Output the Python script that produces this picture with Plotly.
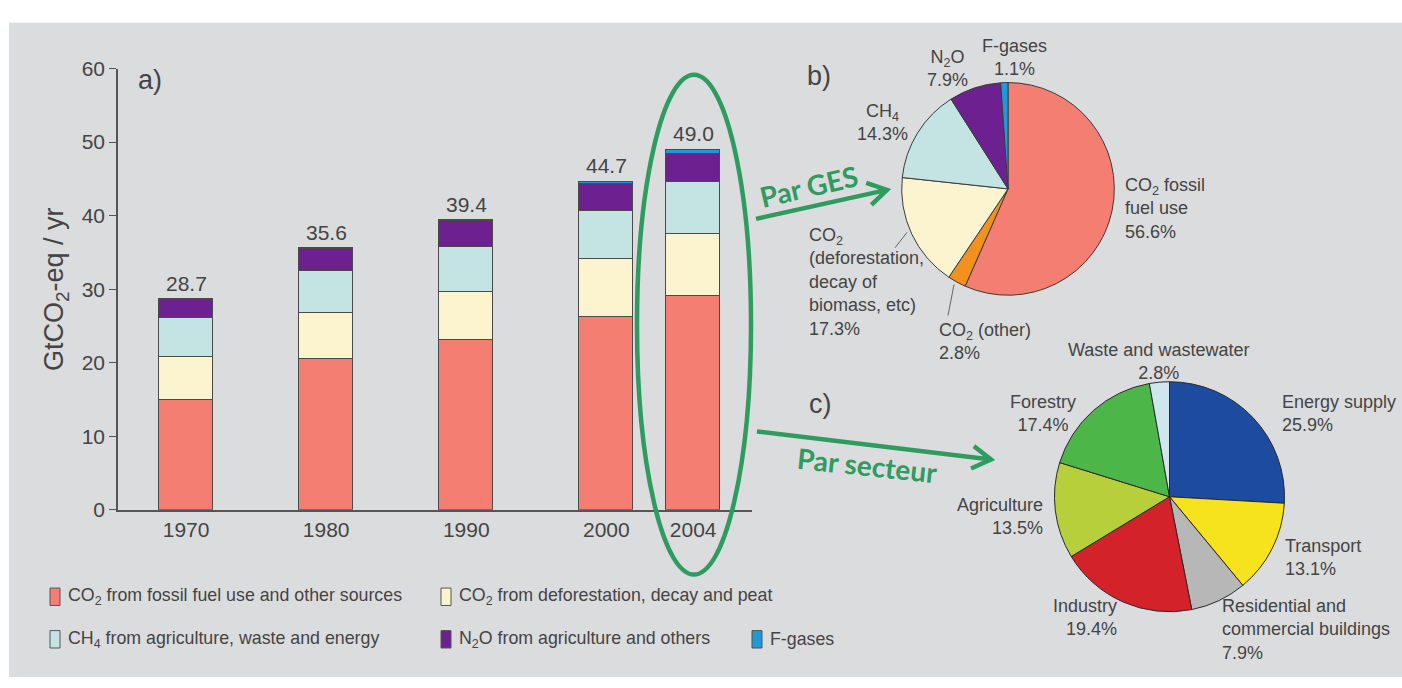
import math
import plotly.graph_objects as go

# ---- data ---------------------------------------------------------------
years = ["1970", "1980", "1990", "2000", "2004"]
co2_fossil = [15.0, 20.5, 23.2, 26.3, 29.1]
co2_deforest = [5.9, 6.3, 6.5, 7.8, 8.5]
ch4 = [5.3, 5.7, 6.1, 6.6, 7.0]
n2o = [2.4, 3.0, 3.5, 3.7, 3.9]
f_gases = [0.1, 0.1, 0.1, 0.3, 0.5]

series_names = [
    "CO<sub>2</sub> from fossil fuel use and other sources",
    "CO<sub>2</sub> from deforestation, decay and peat",
    "CH<sub>4</sub> from agriculture, waste and energy",
    "N<sub>2</sub>O from agriculture and others",
    "F-gases",
]

gas_labels = ["CO<sub>2</sub> fossil<br>fuel use", "CO<sub>2</sub> (other)",
              "CO<sub>2</sub><br>(deforestation,<br>decay of<br>biomass, etc)",
              "CH<sub>4</sub>", "N<sub>2</sub>O", "F-gases"]
gas_share = [56.6, 2.8, 17.3, 14.3, 7.9, 1.1]

sector_labels = ["Energy supply", "Transport",
                 "Residential and<br>commercial buildings", "Industry",
                 "Agriculture", "Forestry", "Waste and wastewater"]
sector_share = [25.9, 13.1, 7.9, 19.4, 13.5, 17.4, 2.8]

# ---- styling ------------------------------------------------------------
W, H = 1402, 688
BG = "#dbdcde"
INK = "#444444"
EDGE = "#4a4a4a"
GREEN = "#2e9b5f"
FONT = "Liberation Sans, Arial, sans-serif"

series_colors = ["#f47e72", "#fcf4cf", "#c3e4e3", "#6d2190", "#1f9ad8"]
gas_colors = ["#f47e72", "#f3901f", "#fcf4cf", "#c3e4e3", "#6d2190", "#1f9ad8"]
sector_colors = ["#1d4b9f", "#f6e31e", "#b7b7b7", "#d4222a", "#b6cf3a",
                 "#4cb748", "#cfe6ef"]

# horizontal slots of the bars (2004 sits closer to 2000)
bar_slots = [0, 1, 2, 3, 3.62]


def px(x):
    return x / W


def py(y):
    return 1 - y / H


fig = go.Figure()

# ---- stacked bars -------------------------------------------------------
for name, vals, col in zip(series_names,
                           [co2_fossil, co2_deforest, ch4, n2o, f_gases],
                           series_colors):
    fig.add_trace(go.Bar(
        x=bar_slots, y=vals, name=name, width=0.386,
        marker=dict(color=col, line=dict(color=EDGE, width=1)),
        showlegend=False, hoverinfo="skip",
    ))

totals = [round(sum(v), 1) for v in zip(co2_fossil, co2_deforest, ch4, n2o, f_gases)]

annotations = []
for xs, tot in zip(bar_slots, totals):
    annotations.append(dict(
        x=xs, y=tot, xref="x", yref="y", text=f"{tot:.1f}", showarrow=False,
        yanchor="bottom", yshift=2, font=dict(size=21, color=INK, family=FONT)))

# ---- pies ---------------------------------------------------------------
def dom(cx, cy, r):
    return dict(x=[px(cx - r), px(cx + r)], y=[py(cy + r), py(cy - r)])


fig.add_trace(go.Pie(
    labels=gas_labels, values=gas_share, sort=False, direction="clockwise",
    rotation=0, textinfo="none", hoverinfo="skip", showlegend=False,
    marker=dict(colors=gas_colors, line=dict(color="#3a3a3a", width=1)),
    domain=dom(1008, 183, 110)))

fig.add_trace(go.Pie(
    labels=sector_labels, values=sector_share, sort=False,
    direction="clockwise", rotation=0, textinfo="none", hoverinfo="skip",
    showlegend=False,
    marker=dict(colors=sector_colors, line=dict(color="#2a2a2a", width=1)),
    domain=dom(1169.5, 501.5, 119)))

# ---- pie labels ---------------------------------------------------------
def lab(text, x, y, anchor="center", size=18):
    annotations.append(dict(
        x=px(x), y=py(y), xref="paper", yref="paper", text=text,
        showarrow=False, xanchor=anchor, yanchor="middle", align=anchor,
        font=dict(size=size, color=INK, family=FONT)))


gas_pos = [(1123, 203, "left"), (937, 341, "left"), (807, 279, "left"),
           (882, 114, "center"), (947, 58, "center"), (1015, 47, "center")]
for text, val, (x, y, a) in zip(gas_labels, gas_share, gas_pos):
    lab(f"{text}<br>{val:.1f}%", x, y, a)

sector_pos = [(1280, 415, "left"), (1283, 564, "left"), (1220, 639, "left"),
              (1119, 626, "right"), (1045, 522, "right"),
              (1043, 415, "center"), (1158, 362, "center")]
for text, val, (x, y, a) in zip(sector_labels, sector_share, sector_pos):
    lab(f"{text}<br>{val:.1f}%", x, y, a)

# panel letters
lab("a)", 150, 70, size=27)
lab("b)", 819, 66, size=27)
lab("c)", 820, 406, size=27)

# ---- background, leader lines, legend -----------------------------------
shapes = [dict(type="rect", xref="paper", yref="paper", x0=px(9), x1=1,
               y0=0, y1=py(11), fillcolor=BG, line=dict(width=0),
               layer="below")]

for (x0, y0, x1, y1) in [(907, 228, 895, 244), (954, 282, 948, 314)]:
    shapes.append(dict(type="line", xref="paper", yref="paper",
                       x0=px(x0), y0=py(y0), x1=px(x1), y1=py(y1),
                       line=dict(color="#666666", width=1)))

legend_slots = [(50, 605), (441, 605), (50, 649), (441, 649), (752, 649)]
for name, col, (x, y) in zip(series_names, series_colors, legend_slots):
    shapes.append(dict(type="rect", xref="paper", yref="paper",
                       x0=px(x), x1=px(x + 10), y0=py(y + 9), y1=py(y - 9),
                       fillcolor=col, line=dict(color="#555555", width=1)))
    annotations.append(dict(
        x=px(x + 16), y=py(y), xref="paper", yref="paper", text=name,
        showarrow=False, xanchor="left", yanchor="middle",
        font=dict(size=17.8, color=INK, family=FONT)))

# ---- green highlight: ellipse, arrows, captions -------------------------
shapes.append(dict(type="circle", xref="paper", yref="paper",
                   x0=px(637), x1=px(751), y0=py(582), y1=py(65),
                   line=dict(color=GREEN, width=4.5)))


def arrow(x0, y0, x1, y1, head=22, spread=32):
    ang = math.atan2(y1 - y0, x1 - x0)
    pts = []
    for s in (-1, 1):
        a = ang + math.pi + s * math.radians(spread)
        pts.append((x1 + head * math.cos(a), y1 + head * math.sin(a)))
    path = (f"M {px(x0)} {py(y0)} L {px(x1)} {py(y1)} "
            f"M {px(pts[0][0])} {py(pts[0][1])} L {px(x1)} {py(y1)} "
            f"L {px(pts[1][0])} {py(pts[1][1])}")
    shapes.append(dict(type="path", xref="paper", yref="paper", path=path,
                       line=dict(color=GREEN, width=4.5)))


arrow(756, 214, 887, 184)
arrow(757, 434, 991, 463)

for text, x, y, rot in [("Par GES", 809, 180, -13),
                        ("Par secteur", 867, 469, 6)]:
    annotations.append(dict(
        x=px(x), y=py(y), xref="paper", yref="paper", text=f"<b>{text}</b>",
        showarrow=False, textangle=rot, xanchor="center", yanchor="middle",
        font=dict(size=28, color=GREEN, family="Lato, Open Sans, sans-serif")))

# ---- layout -------------------------------------------------------------
fig.update_layout(
    width=W, height=H, margin=dict(l=0, r=0, t=0, b=0),
    paper_bgcolor="white", plot_bgcolor="rgba(0,0,0,0)",
    barmode="stack", bargap=0, showlegend=False,
    font=dict(family=FONT, color=INK),
    xaxis=dict(domain=[px(118), px(752)], range=[-0.486, 4.04],
               tickvals=bar_slots, ticktext=years, showgrid=False,
               zeroline=False, showline=True, linecolor="#555555",
               linewidth=1.5, ticks="", tickfont=dict(size=21, color=INK),
               fixedrange=True),
    yaxis=dict(domain=[py(515), py(58.5)], range=[0, 60],
               tickvals=[0, 10, 20, 30, 40, 50, 60], showgrid=False,
               zeroline=False, showline=True, linecolor="#555555",
               linewidth=1.5, ticks="outside", ticklen=7,
               tickcolor="#555555", tickfont=dict(size=21, color=INK),
               title=dict(text="GtCO<sub>2</sub>-eq / yr",
                          font=dict(size=27, color=INK), standoff=10),
               fixedrange=True),
    shapes=shapes, annotations=annotations,
)

fig.write_html("out.html")
